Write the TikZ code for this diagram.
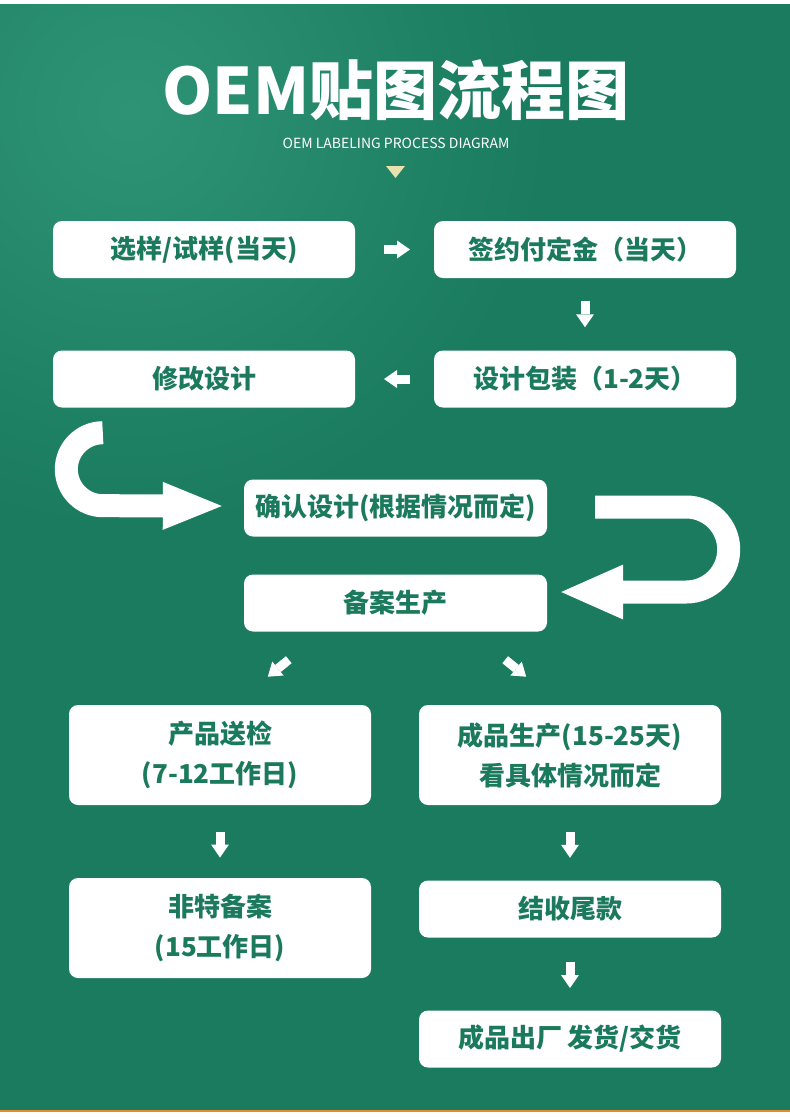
\documentclass[tikz,border=0pt]{standalone}
\usepackage{fontspec}
\newfontfamily\cjk{Noto Sans CJK SC}
\newfontfamily\cjkheavy{Noto Sans CJK SC Black}
\usetikzlibrary{positioning, calc, arrows.meta}

\definecolor{bggreen}{HTML}{1A7B5E}
\definecolor{bglight}{HTML}{2E9375}
\definecolor{txtgreen}{HTML}{1B7A5C}
\definecolor{cream}{HTML}{E9E2AE}
\definecolor{footline}{HTML}{E38B2E}

\tikzset{
  stepbox/.style={fill=white, rounded corners=9pt, minimum width=302pt, minimum height=57pt,
    inner sep=0pt, align=center, text=txtgreen, font=\cjk\bfseries\fontsize{26}{40}\selectfont},
  tallbox/.style={stepbox, minimum height=100pt},
  smallarr/.style={white, line width=9pt, -{Triangle[length=13pt, width=18pt, line width=0pt]}},
  bigarr/.style={white, line width=23pt},
}

\begin{document}
\begin{tikzpicture}[x=1pt, y=-1pt, on grid]
  \useasboundingbox (0,0) rectangle (790,1117);
  % background
  \fill[white] (0,0) rectangle (790,1117);
  \begin{scope}
    \clip (0,4) rectangle (790,1110);
    \fill[bggreen] (0,4) rectangle (790,1110);
    \shade[inner color=bglight, outer color=bggreen] (130,110) circle (420pt);
  \end{scope}
  \fill[footline] (0,1110) rectangle (790,1112);

  % heading
  \node[font=\cjkheavy\fontsize{64}{64}\selectfont, text=white] (title) at (396,90) {OEM贴图流程图};
  \node[font=\cjk\fontsize{14}{14}\selectfont, text=white, below=53pt of title] (subtitle) {OEM LABELING PROCESS DIAGRAM};
  \fill[cream] (386,166) -- (405,166) -- (395.5,178) -- cycle;

  % steps
  \node[stepbox] (sel) at (204,249.5) {选样/试样(当天)};
  \node[stepbox, right=381pt of sel] (sign) {签约付定金（当天）};
  \node[stepbox, below=129.5pt of sign] (pack) {设计包装（1-2天）};
  \node[stepbox, below=129.5pt of sel] (modify) {修改设计};
  \node[stepbox, minimum width=303pt] (confirm) at (395.5,508) {确认设计(根据情况而定)};
  \node[stepbox, minimum width=303pt, below=95pt of confirm] (filing) {备案生产};
  \node[tallbox] (inspect) at (220,755) {产品送检\\(7-12工作日)};
  \node[tallbox, right=350pt of inspect] (produce) {成品生产(15-25天)\\看具体情况而定};
  \node[tallbox, below=173pt of inspect] (record) {非特备案\\(15工作日)};
  \node[stepbox, below=154pt of produce] (balance) {结收尾款};
  \node[stepbox, below=130pt of balance] (ship) {成品出厂 发货/交货};

  % small arrows
  \draw[smallarr] ($(sel.east)!.5!(sign.west)+(-10.5,0)$) -- ++(26,0);
  \draw[smallarr] ($(sign.south)!.5!(pack.north)+(0,-13)$) -- ++(0,26);
  \draw[smallarr] ($(pack.west)!.5!(modify.east)+(15.5,0)$) -- ++(-26,0);
  \draw[smallarr] ($(filing.south west)+(45,28)$) -- ($(filing.south west)+(24,45)$);
  \draw[smallarr] ($(filing.south east)+(-42,28)$) -- ($(filing.south east)+(-21,45)$);
  \draw[smallarr] ($(inspect.south)!.5!(record.north)+(0,-10)$) -- ++(0,26);
  \draw[smallarr] ($(produce.south)!.5!(balance.north)+(0,-11)$) -- ++(0,26);
  \draw[smallarr] ($(balance.south)!.5!(ship.north)+(0,-12)$) -- ++(0,26);

  % loop arrows
  \coordinate (loopL) at ($(modify.south west)+(50,25)$);
  \draw[bigarr, -{Triangle[length=59pt, width=48pt, line width=0pt]}] (loopL)
    .. controls +(-20,0) and +(0,-20) .. ++(-36.5,36.5)
    .. controls +(0,20) and +(-20,0) .. ++(36.5,36.5)
    -- ($(confirm.west)+(-22,-2)$);
  \coordinate (loopR) at ($(confirm.east)+(48,-1)$);
  \draw[bigarr, -{Triangle[length=62pt, width=55pt, line width=0pt]}] (loopR) -- ++(91,0)
    .. controls +(23.5,0) and +(0,-23.5) .. ++(42.5,42.5)
    .. controls +(0,23.5) and +(23.5,0) .. ++(-42.5,42.5)
    -- ($(filing.east)+(14,-11)$);
\end{tikzpicture}
\end{document}
